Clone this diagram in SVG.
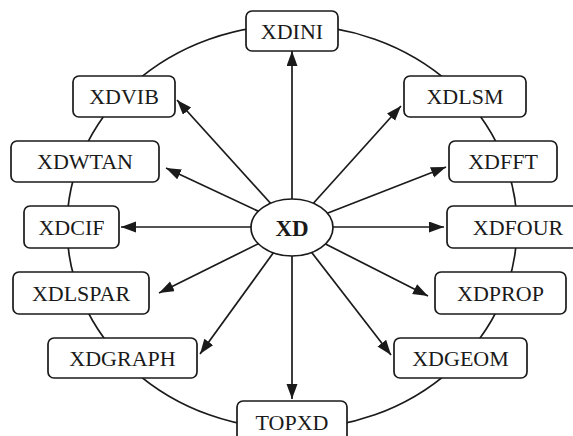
<svg xmlns="http://www.w3.org/2000/svg" width="573" height="436" viewBox="0 0 573 436">
<style>
.box{fill:#fff;stroke:#1a1a1a;stroke-width:1.7}
.t{font-family:"Liberation Serif","Times New Roman",serif;font-size:22px;fill:#1a1a1a;text-anchor:middle}
.c{stroke:#1a1a1a;stroke-width:1.7;fill:none}
</style>
<defs>
<marker id="ah" markerUnits="userSpaceOnUse" markerWidth="16" markerHeight="12" refX="15" refY="5.5" orient="auto">
<path d="M0,0 L15,5.5 L0,11 z" fill="#1a1a1a"/>
</marker>
</defs>
<rect width="573" height="436" fill="#fff"/>
<ellipse id="ring" cx="292" cy="227" rx="225" ry="202" class="c"/>
<g id="connectors" class="c" marker-end="url(#ah)">
<line x1="292" y1="227" x2="292" y2="51"/>
<line x1="292" y1="227" x2="401" y2="106"/>
<line x1="292" y1="227" x2="446" y2="167"/>
<line x1="292" y1="227" x2="444" y2="227"/>
<line x1="292" y1="227" x2="428" y2="296"/>
<line x1="292" y1="227" x2="391" y2="355"/>
<line x1="292" y1="227" x2="292" y2="399"/>
<line x1="292" y1="227" x2="200" y2="354"/>
<line x1="292" y1="227" x2="159" y2="293"/>
<line x1="292" y1="227" x2="121" y2="227"/>
<line x1="292" y1="227" x2="166" y2="168"/>
<line x1="292" y1="227" x2="177" y2="100"/>
</g>
<g id="XD"><ellipse cx="292" cy="227.5" rx="41" ry="28.5" class="box"/><text x="292" y="236" class="t" style="font-weight:bold;font-size:23px">XD</text></g>
<g id="XDINI"><rect x="246" y="11" width="92" height="40" rx="6" class="box"/><text x="292" y="39" class="t">XDINI</text></g>
<g id="XDLSM"><rect x="404" y="76" width="122" height="41" rx="6" class="box"/><text x="465" y="104" class="t">XDLSM</text></g>
<g id="XDFFT"><rect x="449" y="141" width="108" height="41" rx="6" class="box"/><text x="503" y="169" class="t">XDFFT</text></g>
<g id="XDFOUR"><rect x="447" y="206" width="143" height="42" rx="6" class="box"/><text x="518" y="235" class="t">XDFOUR</text></g>
<g id="XDPROP"><rect x="435" y="272" width="131" height="42" rx="6" class="box"/><text x="500.5" y="301" class="t">XDPROP</text></g>
<g id="XDGEOM"><rect x="394" y="338" width="133" height="40" rx="6" class="box"/><text x="460.5" y="366" class="t">XDGEOM</text></g>
<g id="TOPXD"><rect x="237" y="401" width="110" height="42" rx="6" class="box"/><text x="292" y="430" class="t">TOPXD</text></g>
<g id="XDGRAPH"><rect x="48" y="338" width="149" height="40" rx="6" class="box"/><text x="122.5" y="366" class="t">XDGRAPH</text></g>
<g id="XDLSPAR"><rect x="13" y="272" width="136" height="42" rx="6" class="box"/><text x="81" y="301" class="t">XDLSPAR</text></g>
<g id="XDCIF"><rect x="24" y="206" width="95" height="42" rx="6" class="box"/><text x="71.5" y="235" class="t">XDCIF</text></g>
<g id="XDWTAN"><rect x="11" y="141" width="148" height="41" rx="6" class="box"/><text x="85" y="169" class="t">XDWTAN</text></g>
<g id="XDVIB"><rect x="73" y="76" width="102" height="41" rx="6" class="box"/><text x="124" y="104" class="t">XDVIB</text></g>
</svg>
